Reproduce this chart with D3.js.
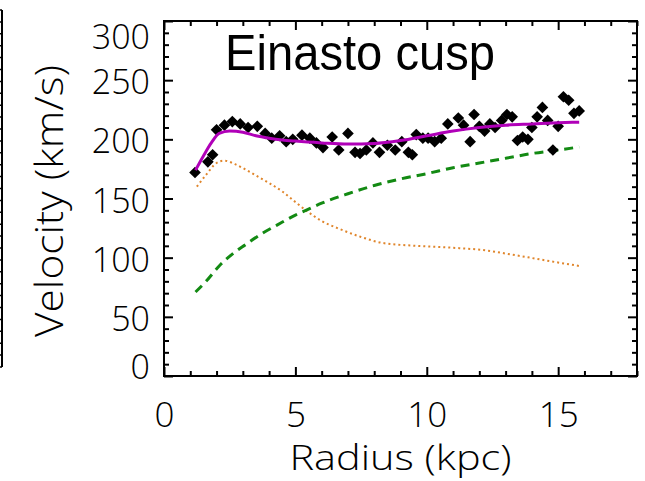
<!DOCTYPE html>
<html>
<head>
<meta charset="utf-8">
<script src="https://cdn.jsdelivr.net/npm/d3@7"></script>
<style>
    body { margin: 0; background: #ffffff; }
    .ticklabel { font-family: "Open Sans", "DejaVu Sans", sans-serif; font-weight: 300; }
</style>
</head>
<body>
<div id="chart"></div>
<script>

//Observed rotation curve (radius in kpc, velocity in km/s)
var obsRadius = [1.18, 1.67, 1.85, 2.0, 2.3, 2.6, 2.9, 3.2, 3.55, 3.85, 4.1, 4.4, 4.65, 4.9, 5.25, 5.55, 5.8,
                 6.05, 6.4, 6.65, 7.0, 7.27, 7.46, 7.7, 7.95, 8.2, 8.5, 8.8, 9.05, 9.3, 9.45, 9.6, 9.85,
                 10.05, 10.3, 10.55, 10.8, 11.2, 11.4, 11.65, 11.8, 12.0, 12.2, 12.4, 12.6, 12.85, 13.05,
                 13.25, 13.45, 13.65, 13.85, 14.0, 14.2, 14.4, 14.6, 14.8, 15.0, 15.2, 15.4, 15.6, 15.8];
var obsVelocity = [172, 181, 187, 208, 212, 215, 213, 210, 211, 205, 201, 203, 198, 200, 203.5, 201, 197,
                   193, 202, 191, 205, 189, 188, 191, 197, 189, 195, 191, 198, 189, 187, 204, 201,
                   201, 198, 201, 213, 218, 212, 198, 221, 211, 207, 213, 210, 216, 221,
                   219, 199, 202, 200, 210, 219, 227, 216, 191, 211, 236, 233, 222, 224];

//Total model (magenta)
var totalRadius = [1.2, 1.5, 1.8, 2.1, 2.5, 3, 3.5, 4, 4.5, 5, 6, 7, 8, 9, 10, 11, 12, 13, 14, 15, 15.8];
var totalVelocity = [174, 186, 197, 205, 207, 206, 203, 201, 199.5, 198.5, 197, 196, 196.5, 199, 203, 207, 210, 212, 213, 214, 214.5];

//Dark matter halo (green dashed)
var haloRadius = [1.2, 1.6, 2.1, 2.6, 3.1, 3.7, 4.3, 5, 5.5, 6, 7, 8, 9, 10, 11, 12, 13, 14, 15, 15.8];
var haloVelocity = [71, 80, 93, 103, 111, 120, 127.5, 136, 141, 146, 154, 161, 166.5, 171, 176, 180, 184, 188, 191, 193.5];

//Baryons (orange dotted)
var baryonRadius = [1.25, 1.6, 2.0, 2.3, 2.7, 3.3, 4, 4.5, 5, 5.4, 6, 6.6, 7.5, 8.3, 9.6, 10.9, 12.1, 13.4, 14.7, 15.8];
var baryonVelocity = [160, 170, 180, 182, 179, 172, 163, 156, 147, 140, 131, 125, 117.5, 112.5, 110, 108.5, 106.5, 102, 97, 93];

//Axis ticks
var xMajorTicks = [0, 5, 10, 15];
var yMajorTicks = [0, 50, 100, 150, 200, 250, 300];

var titleText = "Einasto cusp";
var xLabel = "Radius (kpc)";
var yLabel = "Velocity (km/s)";

//Width and Height
var w = 645;
var h = 481;
var margin = {top: 21, right: 8, bottom: 105, left: 164};

var colors = {total: "#b000b8", halo: "#138a13", baryon: "#e0862c", data: "#000000"};

var svg = d3.select("#chart")
            .append("svg")
            .attr("width", w)
            .attr("height", h);

//Scales
var x = d3.scaleLinear()
            .domain([0, 18])
            .range([margin.left, w - margin.right]);

var y = d3.scaleLinear()
            .domain([0, 300])
            .range([h - margin.bottom, margin.top]);

var toPoints = function(rs, vs) {
    return rs.map(function(r, i) { return [r, vs[i]]; });
};

//Edge of the neighbouring panel, cut off at the left
var yEdge = d3.scaleLinear().domain([0, 300]).range([367, 10]);
svg.append("line")
    .attr("x1", 2).attr("x2", 2)
    .attr("y1", yEdge(300)).attr("y2", yEdge(0))
    .attr("stroke", "#000").attr("stroke-width", 2);
svg.append("g")
    .selectAll("line")
    .data(d3.range(0, 301, 10))
    .join("line")
    .attr("x1", 0).attr("x2", 2)
    .attr("y1", d => yEdge(d)).attr("y2", d => yEdge(d))
    .attr("stroke", "#000").attr("stroke-width", 1.5);

//Model curves
var line = d3.line()
            .x(d => x(d[0]))
            .y(d => y(d[1]))
            .curve(d3.curveMonotoneX);

svg.append("path")
    .datum(toPoints(baryonRadius, baryonVelocity))
    .attr("d", line)
    .attr("fill", "none")
    .attr("stroke", colors.baryon)
    .attr("stroke-width", 2)
    .attr("stroke-dasharray", "2,3");

svg.append("path")
    .datum(toPoints(haloRadius, haloVelocity))
    .attr("d", line)
    .attr("fill", "none")
    .attr("stroke", colors.halo)
    .attr("stroke-width", 3)
    .attr("stroke-dasharray", "9,6");

//Data points (diamonds)
var diamond = d3.symbol().type(d3.symbolSquare).size(68);
svg.append("g")
    .selectAll("path")
    .data(toPoints(obsRadius, obsVelocity))
    .join("path")
    .attr("d", diamond)
    .attr("transform", d => "translate(" + x(d[0]) + "," + y(d[1]) + ") rotate(45)")
    .attr("fill", colors.data);

svg.append("path")
    .datum(toPoints(totalRadius, totalVelocity))
    .attr("d", line)
    .attr("fill", "none")
    .attr("stroke", colors.total)
    .attr("stroke-width", 3);

//Axes: major and minor ticks on all four sides, pointing inward
var xMinor = d3.range(0, 19, 1).filter(d => xMajorTicks.indexOf(d) < 0);
var yMinor = d3.range(0, 301, 10).filter(d => yMajorTicks.indexOf(d) < 0);

var addAxis = function(axis, tx, ty, cls) {
    var g = svg.append("g")
        .attr("class", cls)
        .attr("transform", "translate(" + tx + "," + ty + ")")
        .call(axis);
    g.select(".domain").remove();
    g.selectAll("line").attr("stroke", "#000").attr("stroke-width", 2);
    return g;
};

var bottomY = y(0), topY = y(300), leftX = x(0), rightX = x(18);

var xAxisBottom = addAxis(d3.axisBottom(x).tickValues(xMajorTicks).tickSize(-9).tickPadding(26).tickFormat(d3.format("d")), 0, bottomY, "xAxis");
addAxis(d3.axisBottom(x).tickValues(xMinor).tickSize(-5).tickFormat(""), 0, bottomY, "xMinor");
addAxis(d3.axisTop(x).tickValues(xMajorTicks).tickSize(-9).tickFormat(""), 0, topY, "xTop");
addAxis(d3.axisTop(x).tickValues(xMinor).tickSize(-5).tickFormat(""), 0, topY, "xTopMinor");

var yAxisLeft = addAxis(d3.axisLeft(y).tickValues(yMajorTicks).tickSize(-9).tickPadding(14).tickFormat(d3.format("d")), leftX, 0, "yAxis");
addAxis(d3.axisLeft(y).tickValues(yMinor).tickSize(-5).tickFormat(""), leftX, 0, "yMinor");
addAxis(d3.axisRight(y).tickValues(yMajorTicks).tickSize(-9).tickFormat(""), rightX, 0, "yRight");
addAxis(d3.axisRight(y).tickValues(yMinor).tickSize(-5).tickFormat(""), rightX, 0, "yRightMinor");

xAxisBottom.selectAll("text")
    .attr("class", "ticklabel")
    .attr("font-size", 35)
    .attr("fill", "#000");

yAxisLeft.selectAll("text")
    .attr("class", "ticklabel")
    .attr("font-size", 34)
    .attr("fill", "#000")
    .attr("dy", "0.40em")
    .attr("transform", function(d) {
        //end labels are kept inside the frame
        if (d === 300) return "translate(0,14)";
        if (d === 0) return "translate(0,-11)";
        return null;
    });

//Frame
svg.append("rect")
    .attr("x", leftX)
    .attr("y", topY)
    .attr("width", rightX - leftX)
    .attr("height", bottomY - topY)
    .attr("fill", "none")
    .attr("stroke", "#000")
    .attr("stroke-width", 2);

//Axis titles
svg.append("text")
    .attr("class", "ticklabel")
    .attr("x", (leftX + rightX) / 2)
    .attr("y", 470)
    .attr("text-anchor", "middle")
    .attr("font-size", 35)
    .attr("textLength", 222)
    .attr("lengthAdjust", "spacingAndGlyphs")
    .text(xLabel);

svg.append("text")
    .attr("class", "ticklabel")
    .attr("transform", "translate(63," + 201 + ") rotate(-90)")
    .attr("text-anchor", "middle")
    .attr("font-size", 38)
    .attr("textLength", 272)
    .attr("lengthAdjust", "spacingAndGlyphs")
    .text(yLabel);

//Title inside the plot
svg.append("text")
    .attr("x", 225)
    .attr("y", 70)
    .attr("font-family", "'Liberation Sans', Arial, sans-serif")
    .attr("font-size", 50)
    .attr("textLength", 270)
    .attr("lengthAdjust", "spacingAndGlyphs")
    .attr("fill", "#000")
    .text(titleText);

</script>
</body>
</html>
